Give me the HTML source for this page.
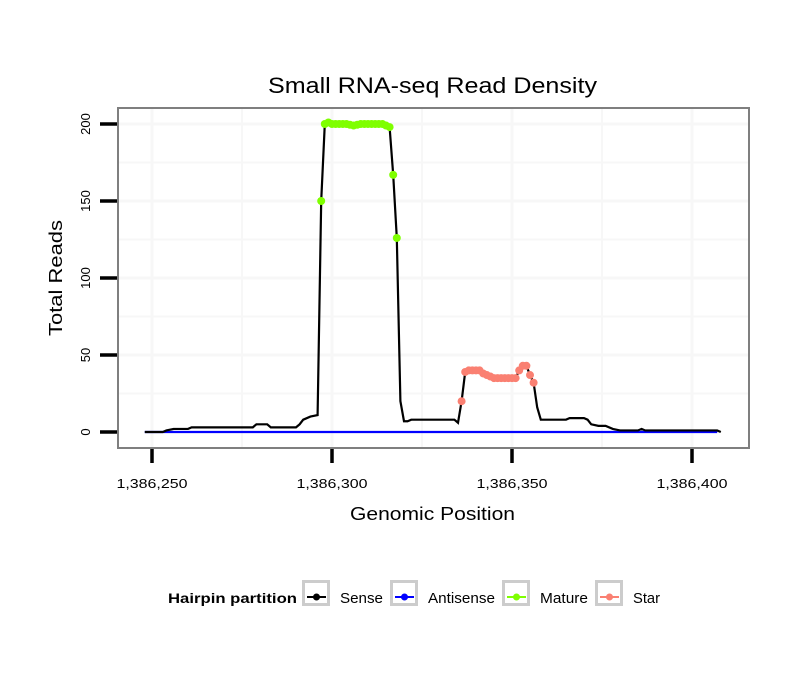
<!DOCTYPE html>
<html><head><meta charset="utf-8"><style>body{margin:0;background:#fff}svg text{font-family:"Liberation Sans",sans-serif}</style></head>
<body>
<svg id="c" width="810" height="690" xmlns="http://www.w3.org/2000/svg">
<rect width="810" height="690" fill="#fff"/>
<text x="268" y="93" font-size="22" textLength="329" lengthAdjust="spacingAndGlyphs">Small RNA-seq Read Density</text>
<g id="grid"></g>
<g id="marks"></g>
<rect x="118" y="108" width="631" height="340" fill="none" stroke="#7f7f7f" stroke-width="2"/>
<g id="axes"></g>
<text x="350" y="520" font-size="18" textLength="165" lengthAdjust="spacingAndGlyphs">Genomic Position</text>
<text transform="translate(62,336) rotate(-90)" font-size="18" textLength="116" lengthAdjust="spacingAndGlyphs">Total Reads</text>
<g id="legend"></g>
</svg>
<script>
const positions=[248,253,254,256,260,261,267,268,273,274,278,279,282,283,290,291,292,294,296,297,298,299,300,302,304,306,308,310,312,314,316,317,318,319,320,321,322,334,335,336,337,338,341,342,344,345,351,352,353,354,355,356,357,358,365,366,370,371,372,374,376,378,380,385,386,387,407,408];
const sense=[0,0,1,2,2,3,3,3,3,3,3,5,5,3,3,5,8,10,11,150,200,201,200,200,200,199,200,200,200,200,198,167,126,20,7,7,8,8,6,20,39,40,40,38,36,35,35,40,43,43,37,32,16,8,8,9,9,8,5,4,4,2,1,1,2,1,1,0];
const matureRange=[297,318];
const starRange=[336,356];
const antisense=[0,0];
const antisensePos=[248,407];
const xTicks=[1386250,1386300,1386350,1386400];
const xTickLabels=["1,386,250","1,386,300","1,386,350","1,386,400"];
const yTicks=[0,50,100,150,200];
const base=1386000;
const X=v=>152+(v-250)*3.6;
const Y=v=>432-v*1.54;
const NS="http://www.w3.org/2000/svg";
function mk(t,a,p){const e=document.createElementNS(NS,t);for(const k in a)e.setAttribute(k,a[k]);p.appendChild(e);return e;}
const grid=document.getElementById('grid'),marks=document.getElementById('marks'),axes=document.getElementById('axes'),leg=document.getElementById('legend');
mk('rect',{x:118,y:108,width:631,height:340,fill:'#fff'},grid);
for(let v=25;v<=225;v+=25){if(Y(v)<108)break;const l=mk('line',{x1:118,x2:749,y1:Y(v),y2:Y(v),stroke:'#f7f7f7','stroke-width':v%50?2:3},grid);

}
for(let v=250;v<=400;v+=25){const l=mk('line',{x1:X(v),x2:X(v),y1:108,y2:448,stroke:'#f7f7f7','stroke-width':v%50?2:3},grid);

}
function interp(p){for(let i=0;i<positions.length-1;i++){if(p>=positions[i]&&p<=positions[i+1]){const t=(p-positions[i])/((positions[i+1]-positions[i])||1);return sense[i]+t*(sense[i+1]-sense[i]);}}return 0;}
const as=mk('polyline',{points:antisensePos.map((p,i)=>X(p)+','+Y(antisense[i])).join(' '),fill:'none',stroke:'#0000ff','stroke-width':2.2},marks);


const sl=mk('polyline',{points:positions.map((p,i)=>X(p)+','+Y(sense[i])).join(' '),fill:'none',stroke:'#000','stroke-width':2.2},marks);


for(let p=matureRange[0];p<=matureRange[1];p++){const c=mk('circle',{cx:X(p),cy:Y(interp(p)),r:4,fill:'#7fff00'},marks);

}
for(let p=starRange[0];p<=starRange[1];p++){const c=mk('circle',{cx:X(p),cy:Y(interp(p)),r:4,fill:'#fa8072'},marks);

}
xTicks.forEach((v,i)=>{const x=X(v-base);
const t=mk('line',{x1:x,x2:x,y1:449,y2:463,stroke:'#000','stroke-width':3.5},axes);


const tx=mk('text',{x:x-35.5,y:488,'font-size':13,textLength:71,lengthAdjust:'spacingAndGlyphs'},axes);tx.textContent=xTickLabels[i];

});
yTicks.forEach(v=>{const y=Y(v);
const t=mk('line',{x1:100,x2:117,y1:y,y2:y,stroke:'#000','stroke-width':3.5},axes);


const tx=mk('text',{transform:`translate(90,${y}) rotate(-90)`,'font-size':13,'text-anchor':'middle'},axes);tx.textContent=v;

});
const lt=mk('text',{x:168,y:603,'font-size':14,'font-weight':'bold',textLength:129,lengthAdjust:'spacingAndGlyphs'},leg);lt.textContent='Hairpin partition';


const ents=[['Sense','#000',302,340,43],['Antisense','#0000ff',390,428,67],['Mature','#7fff00',502,540,48],['Star','#fa8072',595,633,27]];
ents.forEach(e=>{const g=mk('g',{},leg);


mk('rect',{x:e[2]+1.5,y:581.5,width:25,height:23,fill:'#fff',stroke:'#cccccc','stroke-width':3},g);
mk('line',{x1:e[2]+5,x2:e[2]+24,y1:597,y2:597,stroke:e[1],'stroke-width':2},g);
mk('circle',{cx:e[2]+14.5,cy:597,r:3.5,fill:e[1]},g);
const t=mk('text',{x:e[3],y:603,'font-size':15,textLength:e[4],lengthAdjust:'spacingAndGlyphs'},g);t.textContent=e[0];});
</script>
</body></html>
